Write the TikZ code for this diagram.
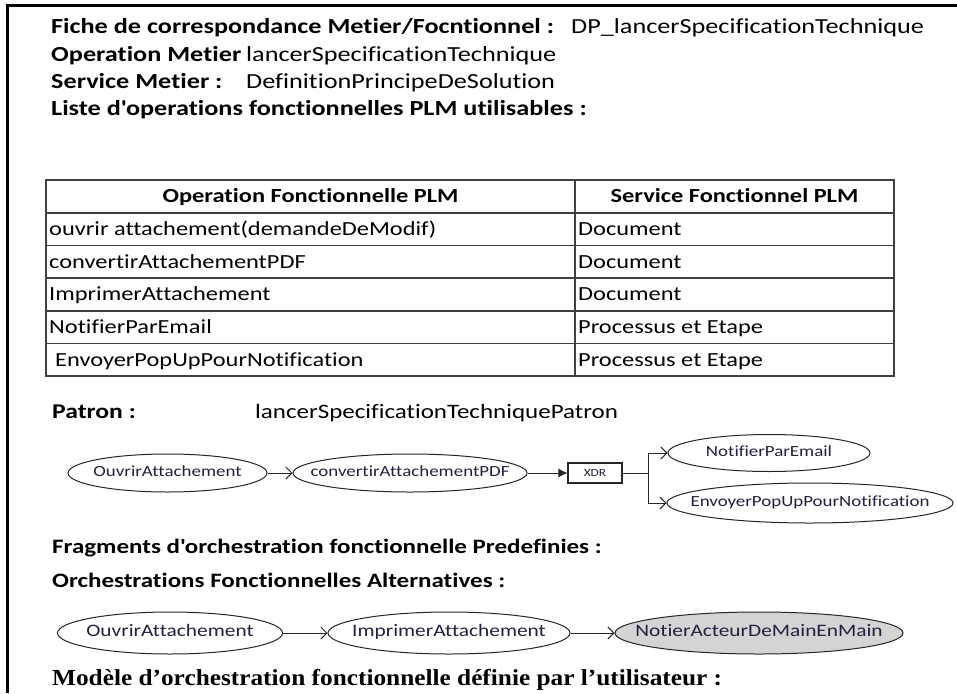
\documentclass[tikz,border=0pt]{standalone}
\usepackage{fontspec}
\setmainfont{Carlito}
\newfontfamily\calib{Carlito}[FakeStretch=1.22, Ligatures=NoCommon]
\newfontfamily\tnrfont{Liberation Serif}[FakeStretch=1.1]
\usetikzlibrary{shapes.geometric,arrows.meta,positioning}

\definecolor{labelink}{RGB}{38,30,62}
% label of fixed-size ellipse, does not widen the shape
\newcommand\oplbl[1]{\makebox[0pt]{#1}}

\tikzset{
  head/.style={anchor=base west, inner sep=0pt, font=\calib\fontsize{21.5}{24}\selectfont\bfseries},
  plain/.style={anchor=base west, inner sep=0pt, font=\calib\fontsize{21.5}{24}\selectfont},
  cell/.style={anchor=base west, inner sep=0pt, font=\calib\fontsize{20}{23}\selectfont},
  cellhead/.style={anchor=base, inner sep=0pt, font=\calib\fontsize{20}{23}\selectfont\bfseries},
  op/.style={ellipse, draw=black!85, line width=1pt, inner sep=0pt,
    text height=1.6ex, text depth=0.2ex,
    text=labelink, font=\calib\fontsize{15.5}{17}\selectfont},
  opbig/.style={op, font=\calib\fontsize{17.5}{20}\selectfont},
  gate/.style={rectangle, draw=black!85, line width=1.1pt, inner sep=0pt,
    minimum width=54pt, minimum height=20pt, text=labelink, font=\calib\fontsize{11}{12}\selectfont},
  flow/.style={-{Straight Barb[length=6pt,width=12pt]}, line width=1pt, black!85},
  flowfill/.style={-{Latex[length=9pt,width=9pt]}, line width=1pt, black!85}
}

\begin{document}
\begin{tikzpicture}[x=1pt, y=-1pt]
  \useasboundingbox (0,0) rectangle (957,693);
  \fill[white] (0,0) rectangle (957,693);
  % frame
  \draw[line width=3pt] (7,693) -- (7,6) -- (957,6);

  % heading lines
  \node[head] (fiche) at (51,34) {Fiche de correspondance Metier/Focntionnel :};
  \node[plain] (fichev) at (571,34) {DP\_lancerSpecificationTechnique};
  \node[head] (opm) at (51,61) {Operation Metier};
  \node[plain] (opmv) at (246,61) {lancerSpecificationTechnique};
  \node[head] (srv) at (51,88) {Service Metier :};
  \node[plain] (srvv) at (246,88) {DefinitionPrincipeDeSolution};
  \node[head] (liste) at (51,115) {Liste d'operations fonctionnelles PLM utilisables :};

  % table
  \draw[line width=1.6pt, black!75] (46,180) rectangle (894,376);
  \draw[line width=1.6pt, black!75] (575,180) -- (575,376);
  \draw[line width=1.6pt, black!75] (46,212.7) -- (894,212.7);
  \draw[line width=1.6pt, black!75] (46,245.3) -- (894,245.3);
  \draw[line width=1.6pt, black!75] (46,278) -- (894,278);
  \draw[line width=1.6pt, black!75] (46,310.7) -- (894,310.7);
  \draw[line width=1.6pt, black!75] (46,343.3) -- (894,343.3);
  \node[cellhead] (th1) at (310.5,202.7) {Operation Fonctionnelle PLM};
  \node[cellhead] (th2) at (734.5,202.7) {Service Fonctionnel PLM};
  \node[cell] (r1a) at (49,235.4) {ouvrir attachement(demandeDeModif)};
  \node[cell] (r1b) at (578,235.4) {Document};
  \node[cell] (r2a) at (49,268.1) {convertirAttachementPDF};
  \node[cell] (r2b) at (578,268.1) {Document};
  \node[cell] (r3a) at (49,300.7) {ImprimerAttachement};
  \node[cell] (r3b) at (578,300.7) {Document};
  \node[cell] (r4a) at (49,333.4) {NotifierParEmail};
  \node[cell] (r4b) at (578,333.4) {Processus et Etape};
  \node[cell] (r5a) at (55,366.1) {EnvoyerPopUpPourNotification};
  \node[cell] (r5b) at (578,366.1) {Processus et Etape};

  % patron
  \node[head, font=\calib\fontsize{21}{23}\selectfont\bfseries] (patron) at (52,418.6) {Patron :};
  \node[plain, font=\calib\fontsize{20.5}{23}\selectfont] (patronv) at (255,418.6) {lancerSpecificationTechniquePatron};
  \node[op, minimum width=199pt, minimum height=38pt] (ouvrir) at (167.5,473) {\oplbl{OuvrirAttachement}};
  \node[op, minimum width=234pt, minimum height=38pt] (convertir) at (410,473) {\oplbl{convertirAttachementPDF}};
  \node[gate] (xdr) at (595,473) {XDR};
  \coordinate (branch) at (648,473);
  \node[op, minimum width=202pt, minimum height=37pt] (notifier) at (769,453) {\oplbl{NotifierParEmail}};
  \node[op, minimum width=286pt, minimum height=40pt] (envoyer) at (810,503) {\oplbl{EnvoyerPopUpPourNotification}};
  \draw[flow] (ouvrir) -- (convertir);
  \draw[flowfill] (convertir) -- (xdr);
  \draw[line width=1pt, black!85] (xdr) -- (branch);
  \draw[flow] (branch) |- (notifier);
  \draw[flow] (branch) |- (envoyer);

  % fragments
  \node[head, font=\calib\fontsize{20.5}{23}\selectfont\bfseries] (frag) at (52,553.6) {Fragments d'orchestration fonctionnelle Predefinies :};
  \node[head, font=\calib\fontsize{20.5}{23}\selectfont\bfseries] (alt) at (52,587.6) {Orchestrations Fonctionnelles Alternatives :};
  \node[opbig, minimum width=225pt, minimum height=42pt] (ouvrirb) at (170,633) {\oplbl{OuvrirAttachement}};
  \node[opbig, minimum width=242pt, minimum height=42pt] (imprimer) at (449,633) {\oplbl{ImprimerAttachement}};
  \node[opbig, fill=black!17, minimum width=288pt, minimum height=42pt] (notier) at (759,633) {\oplbl{NotierActeurDeMainEnMain}};
  \draw[flow] (ouvrirb) -- (imprimer);
  \draw[flow] (imprimer) -- (notier);

  \node[anchor=base west, inner sep=0pt, font=\tnrfont\fontsize{23}{26}\selectfont\bfseries] (modele) at (52,685.6)
    {Modèle d’orchestration fonctionnelle définie par l’utilisateur :};
\end{tikzpicture}
\end{document}
